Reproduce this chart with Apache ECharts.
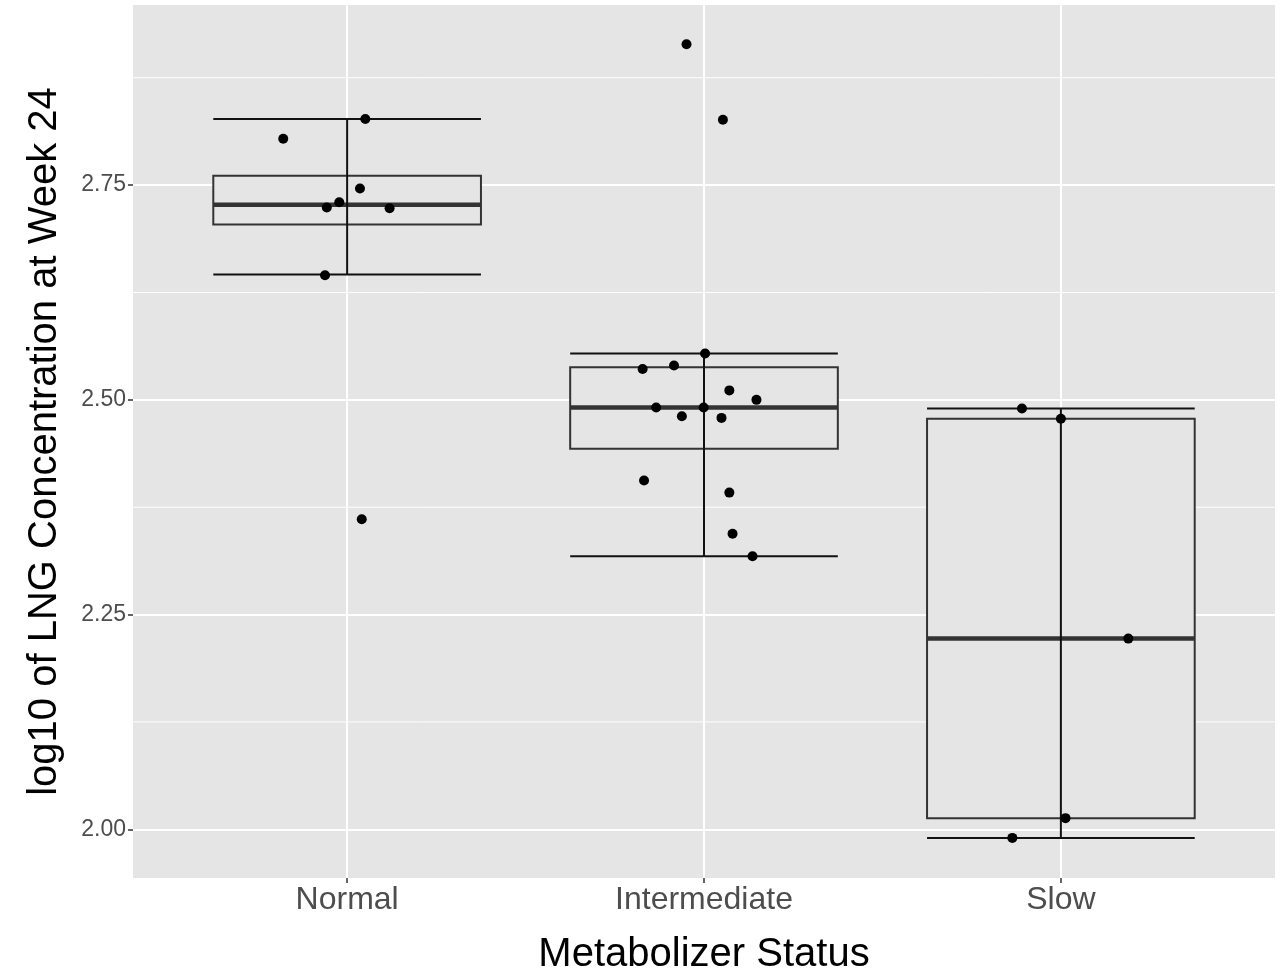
<!DOCTYPE html>
<html>
<head>
<meta charset="utf-8">
<style>
  html, body { margin: 0; padding: 0; background: #fff; }
  #main { width: 1281px; height: 971px; }
</style>
</head>
<body>
<div id="main"></div>
<script src="https://cdn.jsdelivr.net/npm/echarts@6/dist/echarts.min.js"></script>
<script>
    var categories = ['Normal', 'Intermediate', 'Slow'];
    var catPos = [1, 2, 3];
    var yTicks = [2.00, 2.25, 2.50, 2.75];
    var yMinor = [2.125, 2.375, 2.625, 2.875];

    // box stats per group
    var whiskerLow  = [2.646, 2.318, 1.990];
    var boxQ1       = [2.704, 2.443, 2.013];
    var boxMedian   = [2.727, 2.491, 2.222];
    var boxQ3       = [2.761, 2.538, 2.478];
    var whiskerHigh = [2.827, 2.554, 2.490];

    // jittered points (x = group position + jitter)
    var normalX = [1.051, 0.821, 1.036, 0.978, 0.943, 1.119, 0.938, 1.041];
    var normalY = [2.827, 2.804, 2.746, 2.730, 2.724, 2.723, 2.645, 2.361];
    var interX  = [1.951, 2.053, 2.003, 1.828, 1.916, 2.071, 2.147, 1.866, 1.999, 1.938, 2.049, 1.832, 2.071, 2.080, 2.136];
    var interY  = [2.914, 2.826, 2.554, 2.536, 2.540, 2.511, 2.500, 2.491, 2.491, 2.481, 2.479, 2.406, 2.392, 2.344, 2.318];
    var slowX   = [2.891, 3.000, 3.189, 3.013, 2.864];
    var slowY   = [2.490, 2.478, 2.222, 2.013, 1.990];

    var font = 'Liberation Sans, Arial, sans-serif';
    var xMin = 0.4, xMax = 3.6;
    var halfBox = 0.375;

    function pairs(xs, ys){
        var out = [];
        for (var i = 0; i < xs.length; i++) { out.push([xs[i], ys[i]]); }
        return out;
    }
    var points = pairs(normalX, normalY).concat(pairs(interX, interY), pairs(slowX, slowY));

    var boxData = catPos.map(function(p, i){
        return [p, whiskerLow[i], boxQ1[i], boxMedian[i], boxQ3[i], whiskerHigh[i]];
    });

    function renderBox(params, api){
        var x = api.value(0);
        var tl = api.coord([x - halfBox, api.value(4)]);
        var br = api.coord([x + halfBox, api.value(2)]);
        var med = api.coord([x, api.value(3)]);
        return {
            type: 'group',
            children: [
                { type: 'rect', shape: { x: tl[0], y: tl[1], width: br[0] - tl[0], height: br[1] - tl[1] },
                  style: { fill: '#E5E5E5', stroke: '#333333', lineWidth: 2 } },
                { type: 'line', shape: { x1: tl[0], y1: med[1], x2: br[0], y2: med[1] },
                  style: { stroke: '#333333', lineWidth: 4.5 } }
            ]
        };
    }

    function renderErrorbar(params, api){
        var x = api.value(0);
        var lo = api.coord([x - halfBox, api.value(1)]);
        var hi = api.coord([x + halfBox, api.value(5)]);
        var c = api.coord([x, api.value(1)]);
        var st = { stroke: '#111111', lineWidth: 2 };
        return {
            type: 'group',
            children: [
                { type: 'line', shape: { x1: c[0], y1: lo[1], x2: c[0], y2: hi[1] }, style: st },
                { type: 'line', shape: { x1: lo[0], y1: lo[1], x2: hi[0], y2: lo[1] }, style: st },
                { type: 'line', shape: { x1: lo[0], y1: hi[1], x2: hi[0], y2: hi[1] }, style: st }
            ]
        };
    }

    function renderMinor(params, api){
        var a = api.coord([xMin, api.value(0)]);
        var b = api.coord([xMax, api.value(0)]);
        return { type: 'line', shape: { x1: a[0], y1: a[1], x2: b[0], y2: b[1] },
                 style: { stroke: '#ffffff', lineWidth: 1 } };
    }

    var myChart = echarts.init(document.getElementById('main'));
    var option = {
        animation: false,
        backgroundColor: '#ffffff',
        textStyle: { fontFamily: font },
        grid: {
            left: 133, right: 6, top: 5, bottom: 93,
            outerBoundsMode: 'none',
            containLabel: false,
            show: true, backgroundColor: '#E5E5E5', borderWidth: 0
        },
        xAxis: {
            type: 'value',
            min: xMin, max: xMax,
            name: 'Metabolizer Status',
            nameLocation: 'middle',
            nameGap: 57,
            nameTextStyle: { fontSize: 40, color: '#000', fontFamily: font },
            axisLine: { show: false },
            axisTick: { show: true, customValues: catPos, length: 5, lineStyle: { color: '#333', width: 1.5 } },
            axisLabel: {
                customValues: catPos, fontSize: 32, color: '#4D4D4D', margin: 6, fontFamily: font,
                formatter: function(v){ return categories[Math.round(v) - 1]; }
            },
            splitLine: { show: true, lineStyle: { color: '#ffffff', width: 2 } }
        },
        yAxis: {
            type: 'value',
            min: 1.9433, max: 2.9597,
            name: 'log10 of LNG Concentration at Week 24',
            nameLocation: 'middle',
            nameGap: 68,
            nameTextStyle: { fontSize: 40, color: '#000', fontFamily: font },
            axisLine: { show: false },
            axisTick: { show: true, customValues: yTicks, length: 5, lineStyle: { color: '#333', width: 1.5 } },
            axisLabel: {
                customValues: yTicks, fontSize: 23, color: '#4D4D4D', margin: 7, fontFamily: font,
                formatter: function(v){ return v.toFixed(2); }
            },
            splitLine: { show: true, lineStyle: { color: '#ffffff', width: 2 } }
        },
        series: [
            {
                type: 'custom', z: 1, silent: true,
                renderItem: renderMinor,
                encode: { y: 0 },
                data: yMinor.map(function(v){ return [v]; })
            },
            {
                type: 'custom', z: 3, silent: true,
                renderItem: renderBox,
                encode: { x: 0, y: [1, 2, 3, 4, 5] },
                data: boxData
            },
            {
                type: 'custom', z: 4, silent: true,
                renderItem: renderErrorbar,
                encode: { x: 0, y: [1, 2, 3, 4, 5] },
                data: boxData
            },
            {
                type: 'scatter', z: 5, silent: true,
                symbolSize: 10,
                itemStyle: { color: '#000000', opacity: 1 },
                data: points
            }
        ]
    };
    myChart.setOption(option);
</script>
</body>
</html>
